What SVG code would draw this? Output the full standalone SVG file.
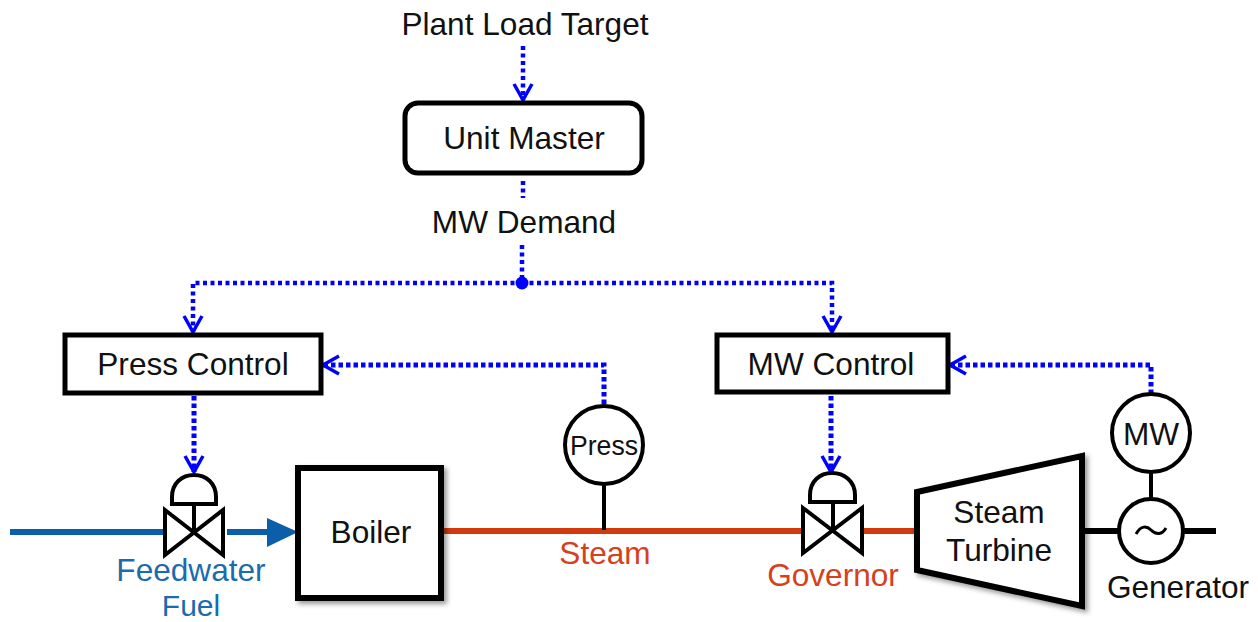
<svg xmlns="http://www.w3.org/2000/svg" width="1258" height="622" viewBox="0 0 1258 622">
<style>
text{font-family:"Liberation Sans",Arial,sans-serif;font-size:31.6px;fill:#111;text-anchor:middle}
.box{fill:#fff;stroke:#000;stroke-width:5}
.thin{fill:#fff;stroke:#000;stroke-width:4;stroke-linejoin:miter}
.sig{fill:none;stroke:#0000ff;stroke-width:4.5;stroke-dasharray:4 3.5}
.sigb{fill:none;stroke:#0000ff;stroke-width:5;stroke-dasharray:4.5 3}
.water{fill:none;stroke:#0b5ea8;stroke-width:6}
.steam{fill:none;stroke:#d23a0e;stroke-width:6}
.shaft{fill:none;stroke:#000;stroke-width:6}
.stem{fill:none;stroke:#000;stroke-width:4}
.fw{fill:#1c6bad}.st{fill:#d6401c}
</style>
<defs>
<filter id="sh" x="-10%" y="-10%" width="125%" height="125%"><feDropShadow dx="3" dy="3" stdDeviation="2.5" flood-color="#000" flood-opacity="0.4"/></filter>
<marker id="arr" markerUnits="userSpaceOnUse" markerWidth="24" markerHeight="24" refX="18" refY="10" orient="auto" viewBox="0 0 24 20"><path d="M2 1 L18 10 L2 19" fill="none" stroke="#0000ff" stroke-width="3.5"/></marker>
</defs>
<g id="connectors">
<path class="water" d="M10 532H166M227 532H270"/>
<polygon points="267,518 298,532 267,547" fill="#0b5ea8"/>
<path class="steam" d="M441 531H804M861 531H917"/>
<path class="shaft" d="M1085 531H1119M1184 531H1216"/>
<path class="stem" d="M604 484V530M1151 472V500"/>
<path class="sig" d="M523 46V100" marker-end="url(#arr)"/>
<path class="sig" d="M523 181V198"/>
<path class="sig" d="M522 245V283"/>
<path class="sig" d="M522 283H193V332" marker-end="url(#arr)"/>
<path class="sig" d="M522 283H832V332" marker-end="url(#arr)"/>
<circle cx="522" cy="283" r="6.5" fill="#0000ff"/>
<path class="sigb" d="M604 404V365H323" marker-end="url(#arr)"/>
<path class="sigb" d="M1151 394V365H950" marker-end="url(#arr)"/>
<path class="sigb" d="M194 396V472" marker-end="url(#arr)"/>
<path class="sigb" d="M831 396V472" marker-end="url(#arr)"/>
</g>
<text x="525" y="35">Plant Load Target</text>
<text x="524" y="233">MW Demand</text>
<g id="unit-master"><rect class="box" x="405" y="103" width="237" height="70" rx="13"/><text x="524" y="149">Unit Master</text></g>
<g id="press-control"><rect class="box" x="65" y="335" width="256" height="58"/><text x="193" y="375">Press Control</text></g>
<g id="mw-control"><rect class="box" x="717" y="335" width="231" height="57"/><text x="831" y="375">MW Control</text></g>
<g id="feed-valve">
<path class="thin" d="M172 504V497C172 483 182 475 194 475C206 475 216 483 216 497V504Z"/>
<path class="stem" d="M194 504V532"/>
<path class="thin" d="M165 510L223 555V510L165 555Z"/>
<text class="fw" x="191" y="581">Feedwater</text><text class="fw" x="191" y="615.5" style="font-size:30px">Fuel</text>
</g>
<g id="boiler"><rect class="box" style="stroke-width:6" filter="url(#sh)" x="298" y="468" width="143" height="130"/><text x="371" y="543">Boiler</text></g>
<g id="press"><circle class="thin" cx="604" cy="445" r="39"/><text x="604" y="455" style="font-size:27px" textLength="68" lengthAdjust="spacingAndGlyphs">Press</text></g>
<text class="st" x="605" y="564">Steam</text>
<g id="governor">
<path class="thin" d="M810 502V495C810 481 820 473 832 473C844 473 855 481 855 495V502Z"/>
<path class="stem" d="M833 502V531"/>
<path class="thin" d="M803 508L862 553V508L803 553Z"/>
<text class="st" x="833" y="586">Governor</text>
</g>
<g id="turbine"><polygon class="box" style="stroke-width:6" filter="url(#sh)" points="917,492 1082,456 1082,606 917,570"/><text x="999" y="523">Steam</text><text x="999" y="561">Turbine</text></g>
<g id="mw"><circle class="thin" cx="1151" cy="433" r="39"/><text x="1151" y="445">MW</text></g>
<g id="generator"><circle class="thin" cx="1151" cy="531" r="32"/><path d="M1136 534C1141 525 1147 526 1151 530C1156 535 1162 535 1166 528" fill="none" stroke="#000" stroke-width="3"/><text x="1178" y="598">Generator</text></g>
</svg>
